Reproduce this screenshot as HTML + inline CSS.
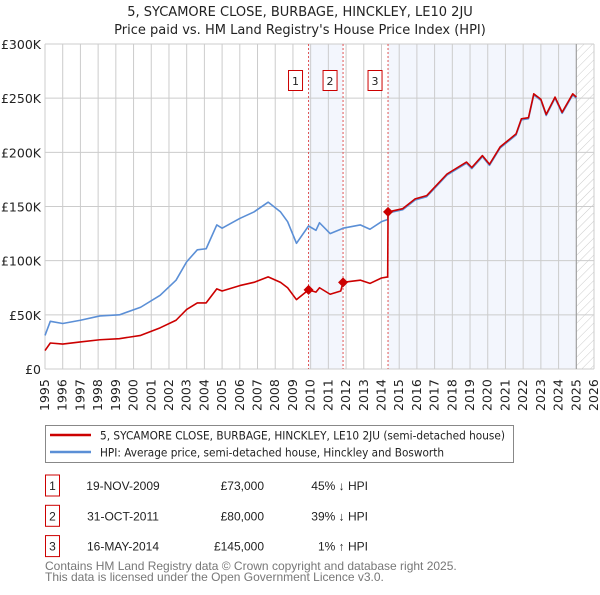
<!DOCTYPE html>
<html><head><meta charset="utf-8"><style>
body{margin:0;background:#fff;font-family:"Liberation Sans","DejaVu Sans",sans-serif;}
svg text{font-family:"DejaVu Sans","Liberation Sans",sans-serif;}
svg text.lib{font-family:"Liberation Sans","DejaVu Sans",sans-serif;}
</style></head><body>
<svg id="chart" width="600" height="590" viewBox="0 0 600 590" xmlns="http://www.w3.org/2000/svg">
<defs><pattern id="hatch" width="6" height="6" patternUnits="userSpaceOnUse" patternTransform="rotate(45)"><line x1="0" y1="0" x2="0" y2="6" stroke="#ccc" stroke-width="1"/></pattern></defs>
<text x="300" y="16" text-anchor="middle" font-size="13" fill="#222">5, SYCAMORE CLOSE, BURBAGE, HINCKLEY, LE10 2JU</text>
<text x="300" y="34" text-anchor="middle" font-size="13" fill="#222">Price paid vs. HM Land Registry's House Price Index (HPI)</text>
<g id="plot"></g>
<g id="legend">
<rect x="45.5" y="425.5" width="468" height="37" fill="#fff" stroke="#888"/>
<line x1="50" y1="435" x2="91" y2="435" stroke="#cc0000" stroke-width="2.5"/>
<text x="100" y="439.5" font-size="11.5" textLength="405" lengthAdjust="spacingAndGlyphs" fill="#222">5, SYCAMORE CLOSE, BURBAGE, HINCKLEY, LE10 2JU (semi-detached house)</text>
<line x1="50" y1="452" x2="91" y2="452" stroke="#5b8fd6" stroke-width="2.5"/>
<text x="100" y="456.5" font-size="11.5" textLength="344" lengthAdjust="spacingAndGlyphs" fill="#222">HPI: Average price, semi-detached house, Hinckley and Bosworth</text>
</g>
<g id="table" font-size="12" fill="#222"></g>
<text class="lib" x="45" y="570" font-size="12" fill="#777">Contains HM Land Registry data © Crown copyright and database right 2025.</text>
<text class="lib" x="45" y="581" font-size="12" fill="#777">This data is licensed under the Open Government Licence v3.0.</text>
</svg>
<script>
const hpiYears=[1995.0,1995.3,1996.0,1997.0,1998.1,1999.2,2000.4,2001.5,2002.4,2003.0,2003.6,2004.1,2004.7,2005.0,2006.0,2006.8,2007.6,2008.3,2008.7,2009.2,2009.88,2010.3,2010.5,2011.1,2011.7,2011.83,2012.8,2013.35,2014.0,2014.35,2014.37,2015.2,2015.9,2016.55,2017.7,2018.8,2019.1,2019.7,2020.1,2020.7,2021.6,2021.9,2022.3,2022.6,2023.0,2023.3,2023.8,2024.2,2024.8,2025.0];
const hpiValues=[31,44,42,45,49,50,57,68,82,99,110,111,133,130,139,145,154,145,136,116,132,128,135,125,129,130,133,129,136,138,144,147,156,159,179,190,185,196,188,204,216,230,231,253,248,234,250,236,253,250];
const priceValues=[17,24,23,25,27,28,31,38,45,55,61,61,74,72,77,80,85,80,75,64,73,71,75,69,72,80,82,79,84,85,145,148,157,160,180,191,186,197,189,205,217,231,232,254,249,235,251,237,254,251];
const saleYears=[2009.88,2011.83,2014.37];
const salePrices=[73,80,145];
const saleDates=["19-NOV-2009","31-OCT-2011","16-MAY-2014"];
const salePriceLabels=["£73,000","£80,000","£145,000"];
const saleHpiLabels=["45% ↓ HPI","39% ↓ HPI","1% ↑ HPI"];
const yTicks=[0,50,100,150,200,250,300];
const yTickLabels=["£0","£50K","£100K","£150K","£200K","£250K","£300K"];
const xStart=1995,xEnd=2026;

const L=45,R=594,T=44,B=369;
const X=t=>L+(t-xStart)/(xEnd-xStart)*(R-L);
const Y=v=>B-v/300*(B-T);
const NS="http://www.w3.org/2000/svg";
const plot=document.getElementById('plot');
function mk(tag,attrs,parent){const e=document.createElementNS(NS,tag);for(const k in attrs)e.setAttribute(k,attrs[k]);(parent||plot).appendChild(e);return e;}

let sh=mk('rect',{x:X(saleYears[0]),y:T,width:X(saleYears[1])-X(saleYears[0]),height:B-T,fill:'#f3f6fd'});


sh=mk('rect',{x:X(saleYears[2]),y:T,width:X(2025)-X(saleYears[2]),height:B-T,fill:'#f3f6fd'});


let ht=mk('rect',{x:X(2025),y:T,width:R-X(2025),height:B-T,fill:'url(#hatch)'});



for(let y=xStart;y<=xEnd;y++){
  const g=mk('line',{x1:X(y),x2:X(y),y1:T,y2:B,stroke:'#ccc','stroke-width':1});
  
  
  const tx=X(y)+4;
  const lb=mk('text',{x:0,y:0,transform:`translate(${tx},${B+42}) rotate(-90)`,'font-size':12.5,fill:'#222'});
  lb.textContent=y;
  
  
}
yTicks.forEach((v,i)=>{
  const g=mk('line',{x1:L,x2:R,y1:Y(v),y2:Y(v),stroke:'#ccc','stroke-width':1});
  
  
  const lb=mk('text',{x:L-4,y:Y(v)+5,'text-anchor':'end','font-size':12.5,fill:'#222'});
  lb.textContent=yTickLabels[i];
  
  
});
const ax=mk('line',{x1:X(2025),x2:X(2025),y1:T,y2:B,stroke:'#999','stroke-width':1});



saleYears.forEach((t,i)=>{
  const l=mk('line',{x1:X(t),x2:X(t),y1:T,y2:B,stroke:'#e05555','stroke-width':1,'stroke-dasharray':'2,2'});
  
  
  const bx=mk('rect',{x:X(t)-20,y:70.5,width:14,height:20,fill:'#fff',stroke:'#cc0000'});
  
  
  const tx=mk('text',{x:X(t)-13,y:85,'text-anchor':'middle','font-size':11,fill:'#222'});
  tx.textContent=i+1;
  
  
});

const hp=mk('polyline',{points:hpiYears.map((t,i)=>X(t)+','+Y(hpiValues[i])).join(' '),fill:'none',stroke:'#5b8fd6','stroke-width':1.6,'stroke-linejoin':'round'});


const pp=mk('polyline',{points:hpiYears.map((t,i)=>X(t)+','+Y(priceValues[i])).join(' '),fill:'none',stroke:'#cc0000','stroke-width':1.6,'stroke-linejoin':'round'});


saleYears.forEach((t,i)=>{
  const x=X(t),y=Y(salePrices[i]);
  const d=mk('polygon',{points:`${x},${y-5} ${x+5},${y} ${x},${y+5} ${x-5},${y}`,fill:'#cc0000'});
  
  
});

const tb=document.getElementById('table');
saleYears.forEach((t,i)=>{
  const y=475+i*30.3;
  const b=mk('rect',{x:45.5,y:y,width:14,height:21,fill:'#fff',stroke:'#cc0000'},tb);
  
  
  const vals=[[52.5,'middle',String(i+1)],[123,'middle',saleDates[i]],[264,'end',salePriceLabels[i]],[368,'end',saleHpiLabels[i]]];
  vals.forEach(v=>{
    const e=mk('text',{x:v[0],y:y+15,'text-anchor':v[1],'class':'lib'},tb);
    e.textContent=v[2];
    
    
  });
});
</script>
</body></html>
